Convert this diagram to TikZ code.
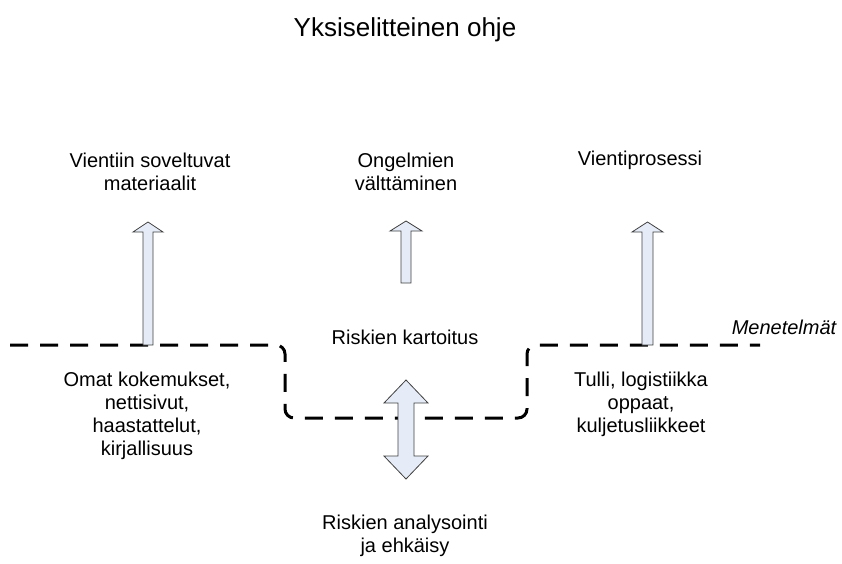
\documentclass[tikz,border=0pt]{standalone}
\usepackage{fontspec}
\setmainfont{Liberation Sans}
\begin{document}
\begin{tikzpicture}[x=1pt,y=-1pt,
  lbl/.style={align=center,inner sep=0pt,font=\fontsize{20}{23}\selectfont},
  ttl/.style={inner sep=0pt,font=\fontsize{26}{30}\selectfont},
  boundary/.style={draw=black,line width=3pt,dash pattern=on 18pt off 12pt,rounded corners=9pt},
  blockarrow/.style={draw=black!75,line width=0.8pt,fill={rgb,255:red,230;green,236;blue,247},line join=miter}]
\useasboundingbox (0,0) rectangle (842,563);

% title
\node[ttl] (title) at (405,30) {Yksiselitteinen ohje};

% method boundary
\draw[boundary] (10,345) -- (285,345) -- (285,418) -- (527,418) -- (527,345) -- (760,345);

% goals above the line
\node[lbl] (goal1) at (150,171.5) {Vientiin soveltuvat\\materiaalit};
\node[lbl] (goal2) at (406,171.5) {Ongelmien\\välttäminen};
\node[lbl] (goal3) at (640,160) {Vientiprosessi};

% middle labels
\node[lbl] (mid) at (405,337) {Riskien kartoitus};
\node[lbl,font=\fontsize{20}{23}\selectfont\itshape] (method) at (784,327) {Menetelmät};

% sources below the line
\node[lbl] (src1) at (147,416) {Omat kokemukset,\\nettisivut,\\haastattelut,\\kirjallisuus};
\node[lbl] (src3) at (641,404) {Tulli, logistiikka\\oppaat,\\kuljetusliikkeet};
\node[lbl] (analysis) at (405,535.5) {Riskien analysointi\\ja ehkäisy};

% upward block arrows
\draw[blockarrow] (143,345) -- (143,232) -- (133,232) -- (148,222) -- (163,232) -- (153,232) -- (153,345) -- cycle;
\draw[blockarrow] (401,283) -- (401,231) -- (390,231) -- (406,221) -- (422,231) -- (411,231) -- (411,283) -- cycle;
\draw[blockarrow] (642,345) -- (642,232) -- (632,232) -- (647.5,222) -- (663,232) -- (653,232) -- (653,345) -- cycle;

% double-headed block arrow
\draw[blockarrow] (398,403) -- (384,403) -- (406,380) -- (428,403) -- (414,403)
  -- (414,456) -- (428,456) -- (406,479) -- (384,456) -- (398,456) -- cycle;
\end{tikzpicture}
\end{document}
